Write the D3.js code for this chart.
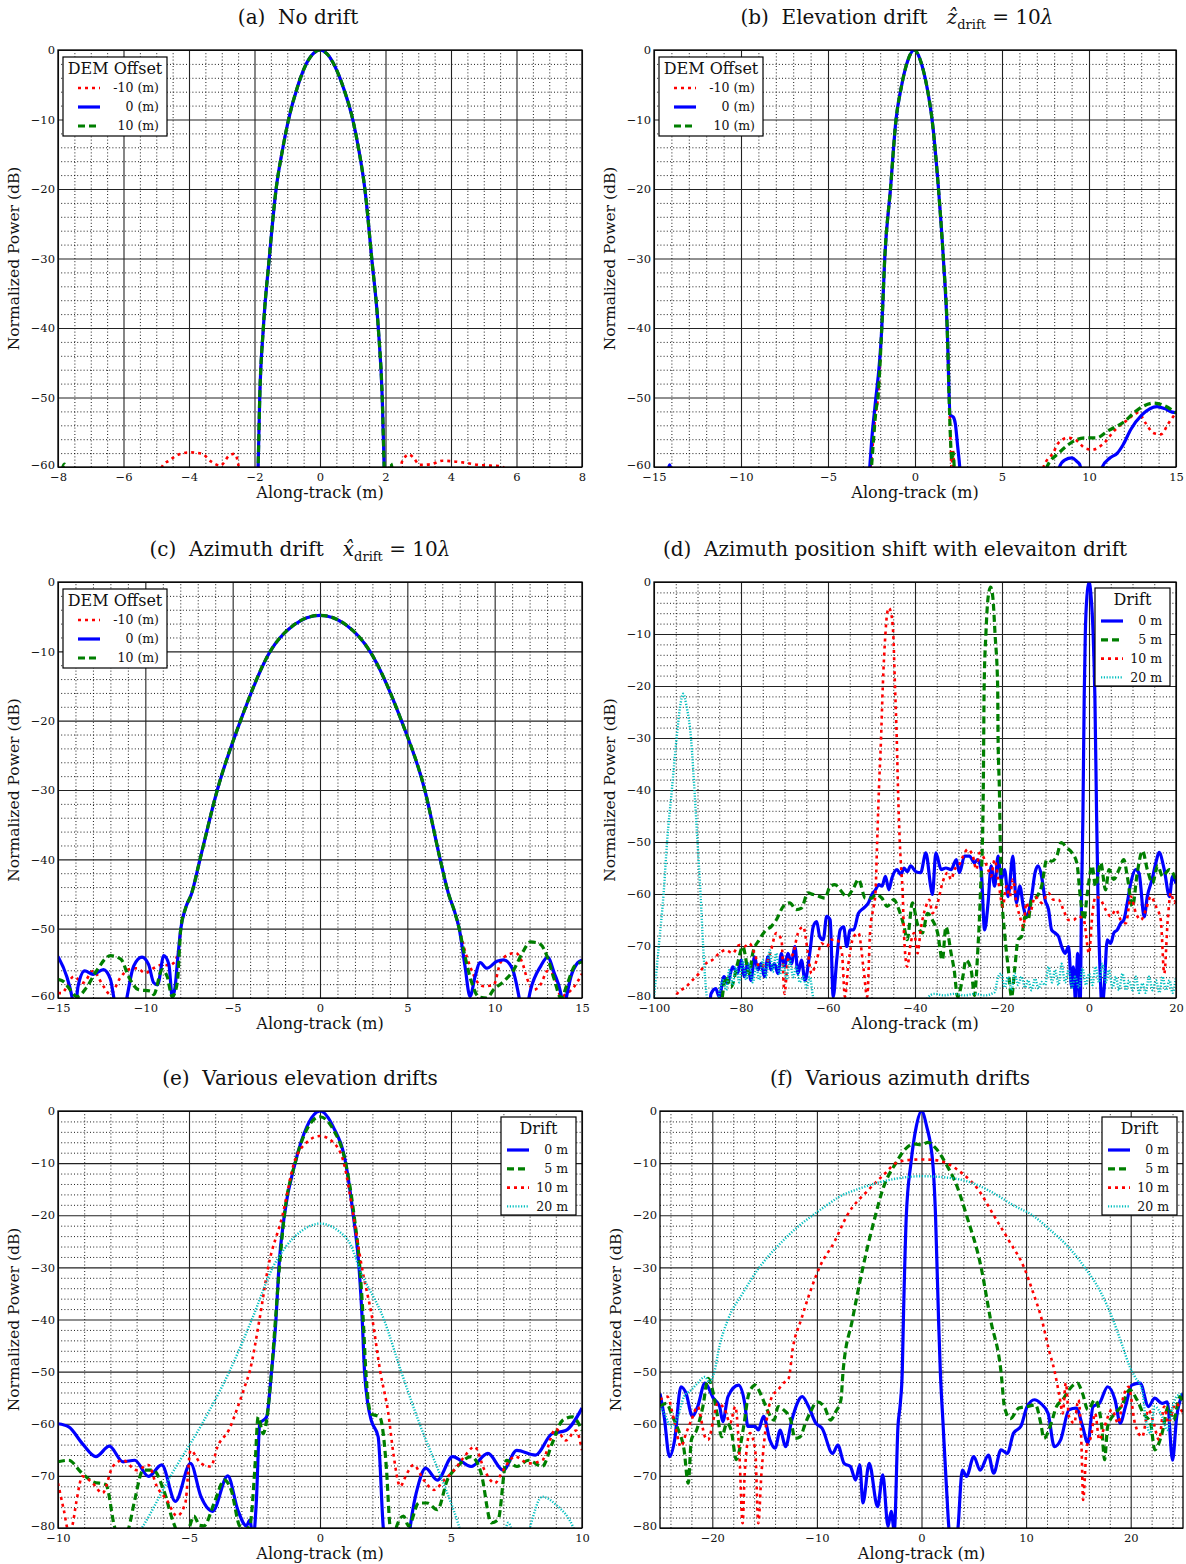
<!DOCTYPE html>
<html lang="en">
<head>
<meta charset="utf-8">
<title>Point target responses with drift</title>
<script src="https://d3js.org/d3.v7.min.js"></script>
<style>
  body { margin: 0; background: #fff; }
  svg text { font-family: "DejaVu Serif", serif; fill: #111; }
</style>
</head>
<body>
<script>
// ---------- data ----------

// (a) no drift
var aLobe = [[-1.89,-60],[-1.84,-50],[-1.73,-40],[-1.55,-30],[-1.34,-20],[-1.15,-14.5],[-0.96,-10],[-0.7,-5.5],[-0.45,-2.3],[-0.2,-0.5],[0,0],[0.2,-0.5],[0.45,-2.3],[0.72,-5.5],[1.0,-10],[1.19,-14.5],[1.37,-20],[1.58,-30],[1.78,-40],[1.9,-50],[1.96,-60]];
var aRedL = [[-5.0,-62],[-4.79,-59.7],[-4.61,-59.1],[-4.32,-58.2],[-3.95,-57.9],[-3.6,-58.1],[-3.33,-59.2],[-3.04,-59.8],[-2.78,-58.4],[-2.6,-58.1],[-2.5,-59.5],[-2.4,-63],[-2.0,-68]];
var aRedR = [[2.05,-68],[2.35,-63],[2.51,-59.2],[2.72,-58.2],[2.86,-58.7],[3.04,-59.7],[3.39,-59.6],[3.74,-59.1],[4.09,-59.2],[4.44,-59.4],[4.85,-59.7],[5.2,-59.8],[5.55,-59.9],[5.8,-62]];
var aGreenL = [[-7.95,-62],[-7.8,-59.6],[-7.65,-62],[-2.0,-68]];
var aGreenR = [[2.05,-68],[2.1,-62],[2.16,-59.5],[2.25,-62]];
var aBlueL = [[-2.0,-68]];
var aBlueR = [[2.05,-68]];

// (b) elevation drift
var bLobe = [[-2.13,-50],[-1.91,-40],[-1.74,-30],[-1.41,-20],[-1.09,-10],[-0.8,-5.5],[-0.45,-1.8],[-0.04,0],[0.35,-1.8],[0.7,-5.5],[0.98,-10],[1.35,-20],[1.63,-30],[1.85,-40],[1.96,-50]];
var bRedL = [[-2.75,-66],[-2.55,-60],[-2.4,-56],[-2.3,-53]];
var bRedR = [[2.04,-56],[2.1,-60],[2.18,-57.5],[2.26,-61],[2.35,-66],[7.2,-62],[7.39,-60],[7.93,-58],[8.26,-56.5],[8.8,-55.8],[9.24,-56.1],[9.78,-57.3],[10.2,-57.5],[10.76,-56.8],[11.52,-54.6],[12.17,-53.3],[12.83,-52.2],[13.26,-53.7],[13.7,-55.1],[14.13,-55.3],[14.57,-53.7],[15,-52.2]];
var bGreenL = [[-2.7,-66],[-2.5,-60],[-2.35,-55],[-2.25,-52]];
var bGreenR = [[2.04,-56],[2.12,-59],[2.2,-58],[2.3,-63],[2.4,-66],[7.4,-62],[7.6,-59.9],[8.26,-58],[8.8,-56.8],[9.24,-56.1],[9.78,-55.8],[10.43,-55.8],[11.09,-54.8],[11.96,-53.6],[12.83,-51.7],[13.7,-50.8],[14.35,-51.2],[15,-52.2]];
var bBlueL = [[-14.3,-63],[-14.1,-59.7],[-13.9,-63],[-2.8,-66],[-2.6,-60],[-2.45,-55],[-2.3,-51.3]];
var bBlueR = [[2.02,-52.5],[2.2,-52.8],[2.32,-53.8],[2.45,-57],[2.57,-60],[2.7,-66],[8.1,-63],[8.3,-60],[8.6,-59],[9.02,-58.7],[9.3,-59.2],[9.46,-59.6],[9.6,-61],[9.8,-63],[10.6,-63],[10.76,-60],[11.2,-58.7],[11.63,-58],[11.96,-56.8],[12.4,-54.6],[13.04,-52.5],[13.91,-51.3],[14.35,-51.6],[14.78,-52.1],[15,-52.2]];

// (c) azimuth drift
var cLobe = [[-7.97,-50],[-7.69,-47],[-7.36,-45],[-6.87,-40],[-5.88,-30],[-4.55,-20],[-2.85,-10],[-1.5,-6.2],[0,-4.8],[1.5,-6.2],[2.86,-10],[4.66,-20],[6.0,-30],[6.88,-40],[7.36,-45],[7.7,-47.5],[7.97,-50]];
var cBlueL = [[-15,-54.0],[-14.5,-56.9],[-14.2,-59.8],[-14.05,-62],[-13.85,-58.3],[-13.47,-56.1],[-12.99,-56.6],[-12.4,-55.9],[-12.0,-57.3],[-11.8,-60],[-11.6,-63],[-11.3,-63],[-11.06,-60],[-10.67,-55.4],[-10.19,-54.1],[-9.81,-55.2],[-9.52,-57.8],[-9.3,-58.1],[-8.94,-53.9],[-8.65,-55.2],[-8.46,-59.8],[-8.3,-58.5],[-8.17,-55]];
var cBlueR = [[8.3,-55.4],[8.59,-59.8],[8.88,-56.9],[9.17,-54.9],[9.55,-55.7],[10.13,-54.7],[10.52,-54.5],[11.0,-55.7],[11.39,-59.8],[11.6,-63],[11.87,-61],[12.06,-58.8],[12.64,-55.4],[13.03,-54.1],[13.41,-56.4],[13.8,-59.5],[13.95,-62],[14.1,-60],[14.37,-56.9],[14.76,-54.9],[15,-54.5]];
var cGreenL = [[-15,-57.3],[-14.6,-57.8],[-14.4,-58.5],[-13.9,-59.8],[-13.37,-58.5],[-12.8,-56.1],[-12.0,-53.9],[-11.4,-54.4],[-10.96,-56.9],[-10.39,-58.8],[-9.71,-59.0],[-9.52,-59.5],[-9.04,-55.9],[-8.75,-56.9],[-8.46,-59.8],[-8.17,-57.8]];
var cGreenR = [[8.3,-54],[8.69,-57.8],[9.07,-59.8],[9.55,-60],[9.94,-58.8],[10.52,-57.6],[11.1,-55.9],[11.58,-53.5],[12.06,-51.9],[12.64,-52.3],[13.03,-54.2],[13.41,-57.3],[13.8,-60],[14.18,-57.8],[14.57,-55.4],[15,-54.8]];
var cRedL = [[-15,-59.3],[-14.8,-59.3],[-14.1,-56.9],[-13.56,-57.8],[-12.99,-56.1],[-12.4,-58.3],[-12.0,-59.5],[-11.44,-57.1],[-10.96,-55.9],[-10.48,-55.7],[-10.0,-56.4],[-9.52,-55.7],[-9.04,-55.2],[-8.65,-55.3],[-8.36,-54.9],[-8.07,-52.5]];
var cRedR = [[8.24,-52.7],[8.59,-55.4],[8.98,-57.6],[9.36,-58.3],[9.94,-58.1],[10.33,-54.9],[10.81,-53.7],[11.2,-53.5],[11.58,-54.9],[11.87,-57.3],[12.26,-58.8],[12.64,-58.0],[13.03,-56.1],[13.41,-56.8],[13.8,-59.8],[14.18,-59.3],[14.57,-58.3],[15,-56.5]];

// (d) azimuth position shift with elevation drift
var dBlue = [[-87.2,-82],[-86.9,-79.2],[-85.8,-78.2],[-85.0,-79.8],[-83.9,-75.9],[-83.1,-77.2],[-81.9,-74.0],[-80.8,-75.3],[-80.0,-72.7],[-79.2,-75.9],[-78.5,-73.4],[-77.7,-76.6],[-76.9,-72.1],[-76.1,-74.6],[-75.4,-73.4],[-74.6,-75.9],[-73.8,-72.1],[-73.1,-74.6],[-72.3,-73.4],[-71.5,-75.3],[-70.7,-71.4],[-70.0,-74],[-69.2,-71.4],[-68.4,-73.4],[-67.6,-70.1],[-66.9,-75.3],[-66.1,-72.7],[-65.3,-76.6],[-64.2,-71.4],[-63.4,-66.3],[-62.6,-65.3],[-61.9,-68.2],[-61.1,-68.8],[-60.3,-64.3],[-59.5,-65.0],[-58.8,-79.8],[-58.0,-72.7],[-57.2,-66.9],[-56.4,-66.3],[-55.7,-70.1],[-54.9,-66.9],[-54.1,-66.9],[-53.0,-63.7],[-51.8,-62.7],[-50.7,-61.7],[-49.9,-60.1],[-49.1,-59.2],[-48.3,-58.2],[-47.6,-58.5],[-46.8,-56.6],[-46.0,-59.2],[-45.3,-56.9],[-44.1,-55.3],[-43.3,-56.3],[-42.5,-55],[-41.8,-55.7],[-41.0,-54.6],[-39.8,-55.7],[-38.7,-55.9],[-37.5,-52.1],[-36.4,-58.5],[-36.0,-60.1],[-35.2,-52.1],[-34.0,-55.3],[-32.9,-55],[-31.7,-55.3],[-30.5,-53.4],[-29.8,-55.9],[-28.6,-52.7],[-27.5,-52.7],[-26.3,-54],[-25.6,-53.4],[-24.8,-55.3],[-24.0,-66.9],[-23.2,-61.7],[-22.5,-54.6],[-21.7,-58.5],[-20.9,-52.7],[-20.2,-57.2],[-19.4,-55.3],[-18.6,-60.5],[-17.5,-52.7],[-16.7,-61.7],[-15.9,-58.5],[-15.1,-62.4],[-14.4,-64.3],[-13.2,-60.5],[-12.4,-55.9],[-11.7,-54.6],[-10.9,-56.6],[-10.1,-61.1],[-9.3,-63],[-8.6,-66.9],[-7.8,-67.5],[-7.0,-68.2],[-6.3,-70.1],[-5.5,-71.4],[-4.7,-70.1],[-4.0,-77.9],[-3.6,-74],[-3.1,-80.5],[-2.6,-71.4],[-2.3,-76],[-2.05,-82],[-1.7,-60],[-1.4,-45],[-1.1,-22],[-0.85,-10],[-0.45,-2.5],[0,0],[0.45,-2.5],[0.95,-10],[1.35,-22],[1.75,-45],[2.1,-62],[2.6,-76],[3.0,-82],[3.5,-78],[4.2,-68.8],[5.0,-69.5],[5.7,-67.5],[6.5,-66.9],[7.3,-65.6],[8.0,-65.0],[8.8,-61.7],[9.6,-57.9],[10.7,-55.3],[11.5,-56],[12.7,-64.4],[13.4,-60.5],[14.5,-57.2],[15.4,-53.9],[16.1,-52],[17.3,-55.3],[18.5,-60.5],[19.2,-56.6],[20,-58]];
var dGreen = [[-84.6,-82],[-84.2,-79.2],[-83.5,-75.9],[-82.3,-77.9],[-80.8,-73.4],[-79.6,-70.1],[-78.1,-75.3],[-77.3,-71.4],[-75.8,-68.8],[-74.2,-66.9],[-73.1,-66.3],[-71.9,-65.0],[-70.3,-62.4],[-68.8,-61.7],[-67.3,-63.0],[-66.1,-62.7],[-64.6,-59.8],[-63.4,-60.1],[-61.9,-60.5],[-60.7,-60.8],[-59.5,-58.5],[-58.4,-58.2],[-57.2,-59.2],[-55.7,-60.5],[-54.1,-58.8],[-53.0,-57.2],[-51.4,-60.8],[-49.9,-60.8],[-49.1,-60.1],[-47.6,-60.8],[-46.4,-62.4],[-44.9,-61.1],[-43.7,-63.0],[-42.5,-66.3],[-41.8,-68.8],[-40.6,-61.7],[-39.5,-65.6],[-38.3,-67.5],[-37.1,-63.7],[-36.0,-65.0],[-34.8,-67.5],[-33.7,-72.7],[-32.9,-66.3],[-31.7,-71.4],[-31.0,-74.6],[-30.2,-79.8],[-29.0,-75.9],[-28.3,-72.7],[-27.1,-74.6],[-26.3,-79.5],[-25.9,-75.9],[-25.6,-71.4],[-25.2,-65],[-24.9,-58.5],[-24.5,-50],[-24.3,-40],[-24.1,-20],[-23.7,-10],[-23.2,-3],[-22.6,-1],[-22.1,-3],[-21.6,-10],[-21.0,-20],[-20.9,-30],[-20.6,-40],[-20.4,-50],[-20.2,-57.2],[-19.4,-67.5],[-18.6,-74],[-17.8,-79.8],[-17.1,-74.6],[-16.3,-68.8],[-15.5,-68.2],[-14.7,-64.3],[-14.0,-65],[-13.2,-61.1],[-12.0,-60.5],[-10.9,-58.5],[-9.7,-53.4],[-8.6,-53.7],[-7.4,-52.7],[-6.4,-50.1],[-5.1,-51.1],[-3.9,-52.1],[-2.8,-54],[-2.0,-60.5],[-1.2,-65],[-0.4,-60],[0.7,-54.6],[1.5,-58.5],[2.7,-54],[3.8,-59.2],[4.6,-55.3],[5.7,-57.2],[6.9,-55.3],[8.0,-53.4],[8.8,-56.6],[10.0,-62.4],[11.1,-55.9],[12.3,-51.7],[13.4,-55.3],[14.6,-57.9],[15.8,-54.6],[16.9,-56.6],[18.5,-55.3],[20,-57.3]];
var dRed = [[-95.5,-82],[-94.7,-79.2],[-92.7,-77.9],[-91.2,-76.6],[-89.7,-75.3],[-88.1,-73.4],[-86.6,-72.7],[-85.0,-71.4],[-83.5,-70.8],[-81.9,-71.4],[-80.4,-69.8],[-79.2,-70.1],[-78.1,-69.5],[-76.9,-71.4],[-75.8,-74],[-74.2,-73.4],[-73.1,-70.8],[-71.9,-67.5],[-70.7,-68.8],[-70.0,-79.2],[-69.2,-72.7],[-68.0,-71.4],[-66.9,-67.5],[-65.7,-66.3],[-64.6,-71.4],[-63.8,-75.3],[-62.6,-72.7],[-61.5,-69.5],[-60.3,-70.1],[-59.2,-68.8],[-58.0,-68.8],[-56.8,-71.4],[-56.1,-79.8],[-55.3,-73.4],[-54.1,-68.2],[-53.0,-67.5],[-51.8,-74.6],[-51.0,-79.8],[-50.3,-66.9],[-49.5,-62.4],[-49.1,-60],[-48.7,-50],[-48.3,-40],[-47.8,-30],[-47.4,-20],[-46.8,-10],[-46.4,-6],[-46,-5],[-45.5,-6],[-45.0,-10],[-44.6,-20],[-44.2,-30],[-43.9,-40],[-43.5,-50],[-43.1,-56],[-42.9,-58.5],[-42.5,-68.2],[-41.8,-74],[-41.0,-69.5],[-40.2,-67.5],[-39.4,-71.4],[-38.7,-66.9],[-37.5,-62.4],[-36.7,-61.1],[-36.0,-63.7],[-34.8,-61.7],[-33.7,-57.9],[-32.5,-55.9],[-31.7,-57.2],[-30.9,-55.3],[-29.8,-54.3],[-28.6,-52.1],[-27.9,-51.4],[-26.7,-52.7],[-25.9,-55.3],[-25.2,-52.1],[-24.4,-52.7],[-23.2,-55.3],[-22.5,-56.6],[-21.7,-53.4],[-20.9,-57.2],[-19.8,-62.4],[-19.0,-58.5],[-18.2,-60.5],[-17.5,-57.2],[-16.7,-61.7],[-15.9,-64.3],[-15.1,-66.3],[-14.4,-61.7],[-13.6,-63.7],[-12.4,-60.5],[-10.9,-61.7],[-9.3,-59.8],[-8.2,-61.1],[-7.0,-61.1],[-5.9,-63],[-4.7,-65],[-3.6,-65],[-2.4,-64.3],[-1.2,-65],[0,-71.4],[0.8,-63.7],[1.5,-60.5],[2.7,-61.1],[3.8,-63],[5.0,-64.3],[6.2,-63],[7.3,-65],[8.5,-65.6],[9.6,-60.5],[10.8,-63.7],[11.9,-65],[13.1,-63],[14.2,-60.5],[15.4,-62.4],[16.5,-65],[17.3,-75.3],[18.1,-65],[18.8,-59.8],[19.6,-61.7],[20,-60.5]];
var dCyan = [[-100,-80],[-98.9,-70],[-97.8,-60],[-97,-50],[-95.9,-40],[-94.8,-30],[-94,-24],[-93.3,-21.5],[-92.5,-24],[-91.5,-30],[-90.7,-40],[-90.0,-50],[-89.3,-60],[-88.7,-70],[-87.8,-80],[-86,-83],[-84.2,-76.6],[-83.4,-78.5],[-82.7,-74.6],[-81.9,-77.5],[-81.2,-74],[-80.4,-77],[-79.6,-72.7],[-78.8,-76.5],[-78.1,-73.4],[-77.3,-77],[-76.5,-74],[-75.8,-76.5],[-75.0,-72.7],[-74.2,-76],[-73.4,-70.8],[-72.7,-75],[-71.9,-71.4],[-71.1,-75.5],[-70.3,-73.4],[-69.5,-76.5],[-68.8,-72.7],[-68.0,-76],[-67.3,-74],[-66.5,-77],[-65.7,-75.9],[-64.9,-78],[-64.2,-75.9],[-63.4,-80],[-62,-83],[-38,-83],[-37.1,-80],[-35.6,-79.2],[-33.3,-79.5],[-31.0,-79.2],[-28.6,-79.5],[-26.3,-79.2],[-24.0,-79.5],[-21.7,-78.9],[-20.9,-76],[-20.2,-75.3],[-19.4,-78],[-18.6,-75.9],[-17.8,-78.5],[-17.1,-75.3],[-16.3,-77.5],[-15.5,-75.9],[-14.7,-78],[-14.0,-76.6],[-13.2,-78.5],[-12.4,-76.3],[-11.6,-78.2],[-10.9,-76.9],[-10.1,-77.5],[-9.3,-74],[-8.5,-77],[-7.8,-74.6],[-7.0,-77.5],[-6.3,-73.4],[-5.5,-77],[-4.7,-74.6],[-3.9,-78],[-3.2,-75.9],[-2.3,-78],[-1.5,-74.3],[-0.7,-77.5],[0,-75.3],[0.8,-77.5],[1.5,-74],[2.3,-77],[3.1,-73.4],[3.9,-77],[4.6,-74.6],[5.4,-78],[6.2,-75.9],[6.9,-78.5],[7.7,-75.3],[8.5,-78.5],[9.2,-76.6],[10.0,-78.5],[10.8,-75.9],[11.5,-79],[12.3,-77.2],[13.0,-79],[13.8,-75.9],[14.6,-78.5],[15.4,-76.6],[16.2,-79],[16.9,-75.9],[17.7,-78.5],[18.5,-76.6],[19.2,-79],[20,-75.9]];

// (e) various elevation drifts
var eBlue = [[-10,-60],[-9.59,-60.6],[-9.07,-63.8],[-8.55,-66.3],[-8.04,-64.3],[-7.52,-67.3],[-7.07,-67],[-6.55,-70.1],[-6.04,-67.9],[-5.52,-74.9],[-4.94,-67.6],[-4.55,-73.9],[-4.1,-76.8],[-3.52,-70],[-3.14,-76.5],[-2.81,-79.6],[-2.68,-78.5],[-2.55,-82],[-2.43,-75],[-2.30,-60],[-2.04,-58.7],[-1.85,-50],[-1.68,-40],[-1.57,-30],[-1.36,-20],[-0.95,-10],[-0.5,-3],[0,0],[0.5,-3],[0.98,-10],[1.27,-20],[1.49,-30],[1.61,-40],[1.7,-50],[1.82,-56],[1.96,-59.4],[2.22,-62.5],[2.41,-79.6],[2.5,-84],[3.35,-84],[3.45,-79.6],[3.77,-71.4],[4.03,-68.5],[4.48,-70.8],[5.06,-66.3],[5.77,-68.2],[6.41,-65.7],[6.99,-68.9],[7.51,-65.1],[8.22,-66],[8.86,-61.9],[9.38,-61.3],[10,-57]];
var eGreen = [[-10,-67.3],[-9.59,-67],[-9.14,-69.2],[-8.68,-71.1],[-8.17,-71.7],[-7.85,-79.6],[-7.6,-83],[-7.3,-80],[-7.07,-74.6],[-6.75,-68.9],[-6.36,-68.9],[-5.97,-72.7],[-5.59,-79],[-5.3,-82],[-5.0,-80],[-4.81,-77.7],[-4.6,-79.5],[-4.43,-79.6],[-4.04,-75.2],[-3.65,-70.8],[-3.39,-72.7],[-3.07,-79.6],[-2.88,-80.3],[-2.68,-79.6],[-2.49,-68.9],[-2.36,-58.7],[-2.17,-61.9],[-2.04,-59.4],[-1.85,-50],[-1.7,-40],[-1.55,-30],[-1.36,-20],[-0.95,-10],[-0.5,-3.5],[0,-1.1],[0.5,-3.5],[0.98,-10],[1.3,-20],[1.52,-30],[1.65,-40],[1.75,-50],[1.85,-56],[1.96,-58.1],[2.28,-58.7],[2.54,-68.9],[2.67,-79.6],[2.8,-82],[2.93,-79.6],[3.19,-77.7],[3.38,-79.6],[3.77,-75.2],[4.09,-75.2],[4.48,-76.5],[4.86,-70.8],[5.25,-68.2],[5.77,-66.3],[6.15,-69.5],[6.54,-79],[6.8,-78.4],[7.12,-67],[7.51,-68.2],[7.96,-67],[8.48,-68.2],[8.86,-63.8],[9.25,-59.4],[9.64,-58.7],[10,-61.3]];
var eRed = [[-10,-71.4],[-9.78,-76.5],[-9.6,-80.5],[-9.46,-79.6],[-9.3,-75],[-9.07,-70.1],[-8.68,-71.4],[-8.3,-73.3],[-7.91,-68.2],[-7.52,-67],[-7.01,-68.9],[-6.55,-67.9],[-6.23,-72],[-5.85,-74.6],[-5.46,-77.7],[-5.14,-75.2],[-4.94,-65.1],[-4.55,-67.6],[-4.17,-68.2],[-3.91,-64.4],[-3.46,-61],[-3.14,-56.8],[-2.88,-53],[-2.68,-49.9],[-2.31,-40],[-1.98,-30],[-1.43,-20],[-0.99,-10],[-0.5,-6],[0,-4.8],[0.5,-6],[0.91,-10],[1.27,-20],[1.6,-30],[2.0,-40],[2.3,-50],[2.61,-58.1],[2.8,-65.7],[3.06,-72],[3.32,-69.5],[3.57,-67.9],[3.96,-70.8],[4.35,-72.7],[4.74,-70.8],[5.12,-68.9],[5.51,-66.3],[5.9,-64.4],[6.28,-68.9],[6.67,-71.4],[6.99,-68.9],[7.44,-66.3],[7.96,-67.6],[8.48,-67],[9.0,-61],[9.38,-63.2],[9.77,-61.3],[10,-65.1]];
var eCyan = [[-7.2,-83],[-6.75,-79.6],[-5.7,-70],[-4.5,-60],[-3.46,-50],[-2.6,-40],[-1.8,-30],[-1.3,-26],[-0.7,-23],[0,-21.6],[0.7,-23],[1.2,-26],[1.49,-30],[2.44,-40],[3.1,-50],[3.8,-60],[4.6,-70],[5.3,-79.6],[5.5,-83],[6.9,-83],[7.19,-79],[7.5,-83],[7.85,-83],[8.03,-79.6],[8.48,-74],[9.0,-75.5],[9.64,-79.6],[9.9,-83]];

// (f) various azimuth drifts
var fBlue = [[-25,-54.2],[-24.6,-58.6],[-24.1,-66.3],[-23.6,-63.1],[-23.0,-52.9],[-22.5,-54.2],[-21.9,-58.6],[-21.4,-56.7],[-20.7,-52.2],[-19.9,-55.1],[-19.3,-56.7],[-19.0,-59.6],[-18.5,-54.8],[-17.5,-52.6],[-16.9,-56.1],[-16.6,-60.5],[-15.9,-60.5],[-15.6,-61.2],[-15.1,-58.6],[-14.5,-63.1],[-14.0,-64.7],[-13.5,-61.2],[-13.0,-64.4],[-12.4,-59.3],[-11.4,-54.8],[-10.8,-56.7],[-10.1,-59.9],[-9.5,-60.9],[-8.5,-65.7],[-8.0,-64.1],[-7.4,-67.6],[-6.8,-68.2],[-6.3,-70.8],[-5.9,-67.9],[-5.6,-75.2],[-5.0,-67.6],[-4.2,-75.9],[-3.7,-69.8],[-3.2,-79.7],[-2.9,-76.8],[-2.6,-80.5],[-2.25,-60.5],[-2.02,-56],[-1.84,-50],[-1.73,-40],[-1.45,-20],[-1.01,-10],[-0.5,-3],[0,0],[0.5,-3],[1.08,-10],[1.34,-20],[1.63,-40],[1.8,-50],[2.06,-60],[2.4,-72.7],[2.7,-81],[3.4,-81],[3.9,-68.9],[4.3,-70.1],[5.0,-66.3],[5.6,-68.9],[6.4,-66],[6.9,-69.5],[7.6,-65],[8.2,-65.7],[8.8,-61.8],[9.5,-60.5],[10.1,-56.7],[10.8,-55.4],[11.4,-56.1],[12.1,-58],[12.7,-64.4],[13.3,-63.1],[14.1,-57.3],[14.8,-57.0],[15.4,-60.5],[15.9,-63.7],[16.4,-56.7],[17.0,-56.1],[17.8,-52.9],[18.5,-55.4],[19.0,-59.9],[19.5,-56.7],[20.1,-52.6],[20.9,-52.2],[21.7,-56.7],[22.3,-55.1],[23.0,-56.1],[23.5,-55.8],[24.0,-67],[24.4,-58.6],[25,-54.2]];
var fGreen = [[-25,-56.7],[-24.4,-56.1],[-23.8,-58.6],[-23.3,-60.9],[-22.7,-65],[-22.3,-71.4],[-22.0,-63.1],[-21.5,-61.2],[-20.9,-56.7],[-20.4,-51.3],[-19.9,-54.2],[-19.5,-58.6],[-19.1,-62.5],[-18.6,-59.9],[-18.2,-61.2],[-17.7,-66.9],[-17.4,-65],[-17.0,-60.5],[-16.5,-54.2],[-15.9,-52.6],[-15.4,-54.2],[-15.0,-56.1],[-14.6,-58],[-14.1,-59.3],[-13.7,-56.7],[-13.2,-57.3],[-12.5,-59.3],[-12.1,-62.8],[-11.6,-62.5],[-11.1,-59.9],[-10.6,-57.7],[-10.0,-55.8],[-9.3,-56.7],[-8.7,-59.3],[-8.2,-57.7],[-7.7,-55.4],[-7.5,-50],[-6.6,-40],[-5.6,-30],[-4.4,-20],[-3.7,-15],[-2.46,-10],[-1.5,-7.2],[-0.7,-6.3],[0,-6.5],[0.6,-6],[1.3,-7],[2.3,-10],[3.5,-15],[4.3,-20],[5.7,-30],[6.6,-40],[7.6,-50],[7.95,-57],[8.5,-59],[9.3,-57],[10.1,-56.7],[10.9,-56.4],[11.4,-59.9],[11.7,-62.8],[12.4,-59.9],[12.9,-56.7],[13.5,-55.4],[14.1,-53.5],[14.9,-52.2],[15.4,-54.2],[15.9,-57.3],[16.6,-55.4],[17.2,-59.9],[17.5,-66.9],[17.8,-60.5],[18.5,-58],[19.1,-56.7],[19.9,-53.5],[20.6,-55.4],[21.2,-58],[21.9,-59.9],[22.3,-65],[23.0,-61.8],[23.6,-56.7],[24.1,-59.3],[24.7,-54.8],[25,-56]];
var fRed = [[-25,-55.4],[-24.3,-54.8],[-23.6,-59.9],[-23.0,-64.4],[-22.5,-61.8],[-22.0,-59.3],[-21.4,-56.7],[-20.7,-62.5],[-20.4,-63.1],[-19.9,-59.3],[-19.5,-56.1],[-18.8,-57.3],[-18.3,-59.9],[-17.8,-56.7],[-17.4,-66.3],[-17.1,-79.1],[-16.9,-69.5],[-16.4,-61.8],[-15.9,-65],[-15.6,-79.1],[-15.3,-69.5],[-14.8,-59.3],[-14.3,-54.8],[-13.7,-53.5],[-13.2,-52.2],[-12.7,-51.3],[-12.3,-45.5],[-11.5,-40],[-10.7,-35],[-9.75,-30],[-8.3,-25],[-7.1,-20],[-5.0,-15],[-3.5,-12],[-2.46,-10],[-1.2,-9.4],[0,-9.3],[1.2,-9.4],[2.4,-10],[3.9,-12],[5.4,-15],[6.9,-20],[8.4,-25],[9.8,-30],[10.7,-35],[11.5,-40],[12.2,-46],[12.7,-49.7],[13.2,-54.8],[13.5,-58],[13.8,-52.2],[14.1,-58.6],[14.6,-59.9],[15.0,-55.4],[15.3,-64.4],[15.45,-74.6],[15.8,-64.4],[16.2,-62.5],[16.6,-58],[17.0,-63.1],[17.5,-60.5],[18.2,-57.3],[18.8,-59.9],[19.3,-54.8],[19.8,-52.9],[20.4,-59.9],[21.1,-62.5],[21.7,-57.3],[22.2,-59.9],[22.7,-63.1],[23.2,-56.7],[23.6,-59.9],[24.3,-56.1],[25,-58]];
var fCyan = [[-25,-56.7],[-24.6,-58],[-23.9,-60.5],[-23.3,-58.6],[-22.7,-54.8],[-22,-53.5],[-21.4,-52.2],[-20.7,-51],[-20.3,-52],[-19.8,-50],[-19.3,-45],[-18.5,-40],[-17.1,-35],[-15.5,-30],[-14.7,-28],[-13.3,-25],[-11.7,-22],[-10.4,-20],[-9.0,-18],[-7.9,-16.5],[-6.1,-15],[-4.6,-14],[-2.5,-13],[0,-12.5],[3.3,-13],[5.1,-14],[7.1,-16],[8.7,-18],[10.6,-20],[12.4,-23],[14.0,-26],[15.6,-30],[17.2,-35],[18.3,-40],[19.2,-45],[19.9,-49],[20.4,-51],[21.1,-53.5],[21.4,-58.6],[21.9,-61.8],[22.3,-56.7],[23.0,-58.6],[23.5,-61.2],[24.0,-56.7],[24.4,-54.8],[25,-54.2]];

var demLabels = ["-10 (m)", "0 (m)", "10 (m)"];
var driftLabels = ["0 m", "5 m", "10 m", "20 m"];

// ---------- drawing ----------
var W = 1186, H = 1564;
var svg = d3.select("body").append("svg").attr("width", W).attr("height", H);

var sty = {
  red:   {color: "#ff0000", width: 2.6, dash: "3,4"},
  blue:  {color: "#0000ff", width: 3.2, dash: null},
  green: {color: "#007f00", width: 3.2, dash: "7,4"},
  cyan:  {color: "#00bfbf", width: 2.4, dash: "1.2,1.6"}
};

var fmt = d3.format("d");

function styleLine(sel, s) {
  sel.attr("fill", "none").attr("stroke", s.color).attr("stroke-width", s.width);
  if (s.dash) sel.attr("stroke-dasharray", s.dash);
}

function panel(p) {
  var g = svg.append("g");
  var w = p.r - p.l, h = p.b - p.t;
  var x = d3.scaleLinear().domain(p.xd).range([p.l, p.r]);
  var y = d3.scaleLinear().domain(p.yd).range([p.b, p.t]);
  var eps = 1e-6;
  function steps(d, st) { return d3.range(Math.ceil(d[0] / st - eps) * st, d[1] + eps, st).map(function(v) { return +v.toFixed(6); }); }
  function isMult(v, st) { var q = v / st; return Math.abs(q - Math.round(q)) < 1e-6; }
  var xMaj = steps(p.xd, p.xMaj), yMaj = steps(p.yd, p.yMaj);
  var xMin = steps(p.xd, p.xMin).filter(function(v) { return !isMult(v, p.xMaj); });
  var yMin = steps(p.yd, p.yMin).filter(function(v) { return !isMult(v, p.yMaj); });

  // minor grid (dotted)
  g.append("g").attr("transform", "translate(0," + p.b + ")")
    .call(d3.axisBottom(x).tickValues(xMin).tickSize(-h).tickFormat(""))
    .call(function(s) { s.select(".domain").remove(); })
    .selectAll("line").attr("stroke", "#000").attr("stroke-width", 0.9).attr("stroke-dasharray", "1,2.2");
  g.append("g").attr("transform", "translate(" + p.l + ",0)")
    .call(d3.axisLeft(y).tickValues(yMin).tickSize(-w).tickFormat(""))
    .call(function(s) { s.select(".domain").remove(); })
    .selectAll("line").attr("stroke", "#000").attr("stroke-width", 0.9).attr("stroke-dasharray", "1,2.2");
  // major grid (solid)
  g.append("g").attr("transform", "translate(0," + p.b + ")")
    .call(d3.axisBottom(x).tickValues(xMaj).tickSize(-h).tickFormat(""))
    .call(function(s) { s.select(".domain").remove(); })
    .selectAll("line").attr("stroke", "#222").attr("stroke-width", 1.1);
  g.append("g").attr("transform", "translate(" + p.l + ",0)")
    .call(d3.axisLeft(y).tickValues(yMaj).tickSize(-w).tickFormat(""))
    .call(function(s) { s.select(".domain").remove(); })
    .selectAll("line").attr("stroke", "#222").attr("stroke-width", 1.1);

  // series
  var clipId = "clip-" + p.id;
  svg.append("defs").append("clipPath").attr("id", clipId)
    .append("rect").attr("x", p.l).attr("y", p.t).attr("width", w).attr("height", h);
  var line = d3.line().x(function(d) { return x(d[0]); }).y(function(d) { return y(d[1]); }).curve(d3.curveMonotoneX);
  var sg = g.append("g").attr("clip-path", "url(#" + clipId + ")");
  p.series.forEach(function(s) {
    sg.append("path").datum(s.data).attr("d", line).call(styleLine, sty[s.style]);
  });

  // frame
  g.append("rect").attr("x", p.l).attr("y", p.t).attr("width", w).attr("height", h)
    .attr("fill", "none").attr("stroke", "#000").attr("stroke-width", 1.3);

  // tick labels
  var ax = g.append("g").attr("transform", "translate(0," + p.b + ")")
    .call(d3.axisBottom(x).tickValues(xMaj).tickSize(0).tickPadding(6).tickFormat(fmt));
  ax.select(".domain").remove();
  ax.selectAll("text").attr("font-size", 11.5).attr("font-family", "DejaVu Serif").attr("fill", "#222");
  var ay = g.append("g").attr("transform", "translate(" + p.l + ",0)")
    .call(d3.axisLeft(y).tickValues(yMaj).tickSize(0).tickPadding(3).tickFormat(fmt));
  ay.select(".domain").remove();
  ay.selectAll("text").attr("font-size", 11.5).attr("font-family", "DejaVu Serif").attr("fill", "#222")
    .attr("dy", function(d) { return d === p.yd[0] ? "0.1em" : "0.32em"; });

  // axis labels
  g.append("text").attr("x", (p.l + p.r) / 2).attr("y", p.b + 31).attr("text-anchor", "middle")
    .attr("font-size", 16).text("Along-track (m)");
  g.append("text").attr("transform", "translate(" + (p.l - 39) + "," + ((p.t + p.b) / 2) + ") rotate(-90)")
    .attr("text-anchor", "middle").attr("font-size", 15.5).text("Normalized Power (dB)");

  // title
  var tt = g.append("text").attr("x", p.titleX).attr("y", p.t - 26).attr("text-anchor", "middle")
    .attr("font-size", 20).style("white-space", "pre");
  p.title.forEach(function(part) {
    var ts = tt.append("tspan").text(part.t);
    if (part.it) ts.attr("font-style", "italic");
    if (part.sub) ts.attr("font-size", 13).attr("dy", 5);
    if (part.up) ts.attr("dy", -5);
  });

  // legend
  var L = p.legend;
  var lg = g.append("g").attr("transform", "translate(" + L.x + "," + L.y + ")");
  lg.append("rect").attr("width", L.w).attr("height", L.h).attr("fill", "#fff")
    .attr("stroke", "#000").attr("stroke-width", 1.2);
  lg.append("text").attr("x", L.w / 2).attr("y", 17).attr("text-anchor", "middle")
    .attr("font-size", 16).text(L.title);
  L.items.forEach(function(it, i) {
    var yy = L.y0 + i * L.dy;
    lg.append("line").attr("x1", L.sx0).attr("x2", L.sx1).attr("y1", yy).attr("y2", yy)
      .call(styleLine, sty[it.style]);
    lg.append("text").attr("x", L.w - 8).attr("y", yy).attr("dy", "0.35em").attr("text-anchor", "end")
      .attr("font-size", 12.5).text(it.label);
  });
}

function demLegend(l, t) {
  return {x: l + 5, y: t + 7, w: 104, h: 79, title: "DEM Offset", y0: 31, dy: 19, sx0: 15, sx1: 37,
    items: [{label: demLabels[0], style: "red"}, {label: demLabels[1], style: "blue"}, {label: demLabels[2], style: "green"}]};
}
function driftLegend(r, t) {
  return {x: r - 81, y: t + 6, w: 75, h: 98, title: "Drift", y0: 33, dy: 18.8, sx0: 6, sx1: 28,
    items: [{label: driftLabels[0], style: "blue"}, {label: driftLabels[1], style: "green"}, {label: driftLabels[2], style: "red"}, {label: driftLabels[3], style: "cyan"}]};
}

panel({id: "a", l: 58, r: 582, t: 50, b: 467, xd: [-8, 8], yd: [-60, 0], xMaj: 2, xMin: 0.5, yMaj: 10, yMin: 2,
  titleX: 298, title: [{t: "(a)  No drift"}],
  series: [{data: [].concat(aRedL, aLobe, aRedR), style: "red"},
           {data: [].concat(aBlueL, aLobe, aBlueR), style: "blue"},
           {data: [].concat(aGreenL, aLobe, aGreenR), style: "green"}],
  legend: demLegend(58, 50)});

panel({id: "b", l: 654, r: 1176, t: 50, b: 467, xd: [-15, 15], yd: [-60, 0], xMaj: 5, xMin: 1, yMaj: 10, yMin: 2,
  titleX: 897, title: [{t: "(b)  Elevation drift   "}, {t: "\u1E91", it: true}, {t: "drift", sub: true}, {t: " = 10", up: true}, {t: "\u03BB", it: true}],
  series: [{data: [].concat(bRedL, bLobe, bRedR), style: "red"},
           {data: [].concat(bBlueL, bLobe.slice(1, -1), bBlueR), style: "blue"},
           {data: [].concat(bGreenL, bLobe, bGreenR), style: "green"}],
  legend: demLegend(654, 50)});

panel({id: "c", l: 58, r: 582, t: 582, b: 998, xd: [-15, 15], yd: [-60, 0], xMaj: 5, xMin: 1, yMaj: 10, yMin: 2,
  titleX: 300, title: [{t: "(c)  Azimuth drift   "}, {t: "x\u0302", it: true}, {t: "drift", sub: true}, {t: " = 10", up: true}, {t: "\u03BB", it: true}],
  series: [{data: [].concat(cRedL, cLobe, cRedR), style: "red"},
           {data: [].concat(cBlueL, cLobe, cBlueR), style: "blue"},
           {data: [].concat(cGreenL, cLobe, cGreenR), style: "green"}],
  legend: demLegend(58, 582)});

panel({id: "d", l: 654, r: 1176, t: 582, b: 998, xd: [-100, 20], yd: [-80, 0], xMaj: 20, xMin: 5, yMaj: 10, yMin: 2,
  titleX: 895, title: [{t: "(d)  Azimuth position shift with elevaiton drift"}],
  series: [{data: dBlue, style: "blue"}, {data: dGreen, style: "green"}, {data: dRed, style: "red"}, {data: dCyan, style: "cyan"}],
  legend: driftLegend(1176, 582)});

panel({id: "e", l: 58, r: 582, t: 1111, b: 1528, xd: [-10, 10], yd: [-80, 0], xMaj: 5, xMin: 1, yMaj: 10, yMin: 2,
  titleX: 300, title: [{t: "(e)  Various elevation drifts"}],
  series: [{data: eBlue, style: "blue"}, {data: eGreen, style: "green"}, {data: eRed, style: "red"}, {data: eCyan, style: "cyan"}],
  legend: driftLegend(582, 1111)});

panel({id: "f", l: 660, r: 1183, t: 1111, b: 1528, xd: [-25, 25], yd: [-80, 0], xMaj: 10, xMin: 2, yMaj: 10, yMin: 2,
  titleX: 900, title: [{t: "(f)  Various azimuth drifts"}],
  series: [{data: fBlue, style: "blue"}, {data: fGreen, style: "green"}, {data: fRed, style: "red"}, {data: fCyan, style: "cyan"}],
  legend: driftLegend(1183, 1111)});
</script>
</body>
</html>
